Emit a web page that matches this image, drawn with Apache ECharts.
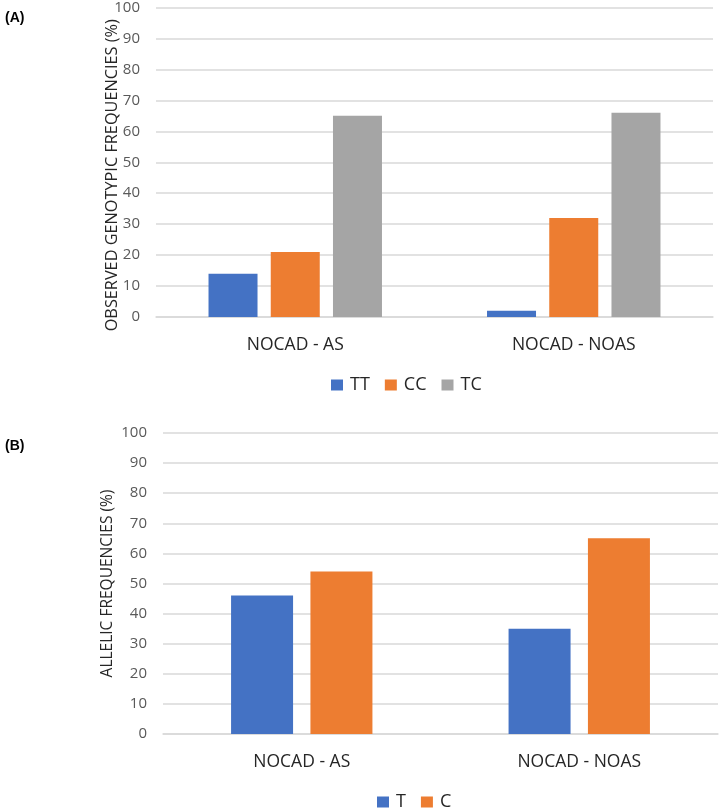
<!DOCTYPE html>
<html><head><meta charset="utf-8">
<script src="https://cdn.jsdelivr.net/npm/echarts@6/dist/echarts.min.js"></script>
<style>html,body{margin:0;padding:0;background:#fff}#c{width:720px;height:808px}</style>
</head><body><div id="c"></div>
<script>
var categories = ['NOCAD - AS', 'NOCAD - NOAS'];
var genoTT = [14, 2];
var genoCC = [21, 32];
var genoTC = [65, 66];
var alleleT = [46, 35];
var alleleC = [54, 65];
var yTicks = [0, 10, 20, 30, 40, 50, 60, 70, 80, 90, 100];

var FONT = '"Open Sans", "Liberation Sans", sans-serif';
var BLUE = '#4472C4', ORANGE = '#ED7D31', GRAY = '#A5A5A5';

function yAxis(gi, name, nameSize, nameGap, namePad) {
  return {
    gridIndex: gi, type: 'value', min: yTicks[0], max: yTicks[yTicks.length - 1], interval: 10,
    name: name, nameLocation: 'middle', nameGap: nameGap, nameMoveOverlap: false,
    nameTextStyle: { fontFamily: FONT, fontSize: nameSize, color: '#262626', padding: namePad },
    axisLine: { show: false }, axisTick: { show: false },
    axisLabel: { fontFamily: FONT, fontSize: 15, color: '#595959', margin: 16 },
    splitLine: { lineStyle: { color: '#D9D9D9', width: 1.5 } }
  };
}
function xAxis(gi) {
  return {
    gridIndex: gi, type: 'category', data: categories,
    axisLine: { lineStyle: { color: '#D9D9D9', width: 1.5 } }, axisTick: { show: false },
    axisLabel: { fontFamily: FONT, fontSize: 17.5, color: '#262626', margin: 19 }
  };
}
function bar(name, data, color, gi, width, gap) {
  return {
    name: name, type: 'bar', data: data, xAxisIndex: gi, yAxisIndex: gi,
    barWidth: width, barGap: gap, itemStyle: { color: color }
  };
}
var legendText = { fontFamily: FONT, fontSize: 18, color: '#262626', padding: [0, 0, 0, 2] };

var chart = echarts.init(document.getElementById('c'), null, { renderer: 'canvas' });
chart.setOption({
  animation: false,
  backgroundColor: '#fff',
  graphic: [
    { type: 'text', left: 5, top: 11, style: { text: '(A)', font: 'bold 14px "Liberation Sans", Arial, sans-serif', fill: '#000' } },
    { type: 'text', left: 5, top: 439, style: { text: '(B)', font: 'bold 14px "Liberation Sans", Arial, sans-serif', fill: '#000' } }
  ],
  grid: [
    { left: 156, top: 5, right: 7, height: 312 },
    { left: 163, top: 433, right: 2, height: 301 }
  ],
  xAxis: [xAxis(0), xAxis(1)],
  yAxis: [
    yAxis(0, 'OBSERVED GENOTYPIC FREQUENCIES (%)', 16.3, 36, [0, 26, 0, 0]),
    yAxis(1, 'ALLELIC FREQUENCIES (%)', 15.5, 47, 0)
  ],
  legend: [
    { data: ['TT', 'CC', 'TC'], left: 331, top: 376, padding: 0, itemWidth: 12, itemHeight: 11, itemGap: 15,
      icon: 'rect', textStyle: legendText },
    { data: ['T', 'C'], left: 377, top: 793, padding: 0, itemWidth: 12, itemHeight: 11, itemGap: 15,
      icon: 'rect', textStyle: legendText }
  ],
  series: [
    bar('TT', genoTT, BLUE, 0, 49, '27%'),
    bar('CC', genoCC, ORANGE, 0, 49, '27%'),
    bar('TC', genoTC, GRAY, 0, 49, '27%'),
    bar('T', alleleT, BLUE, 1, 62, '28%'),
    bar('C', alleleC, ORANGE, 1, 62, '28%')
  ]
});
</script></body></html>
